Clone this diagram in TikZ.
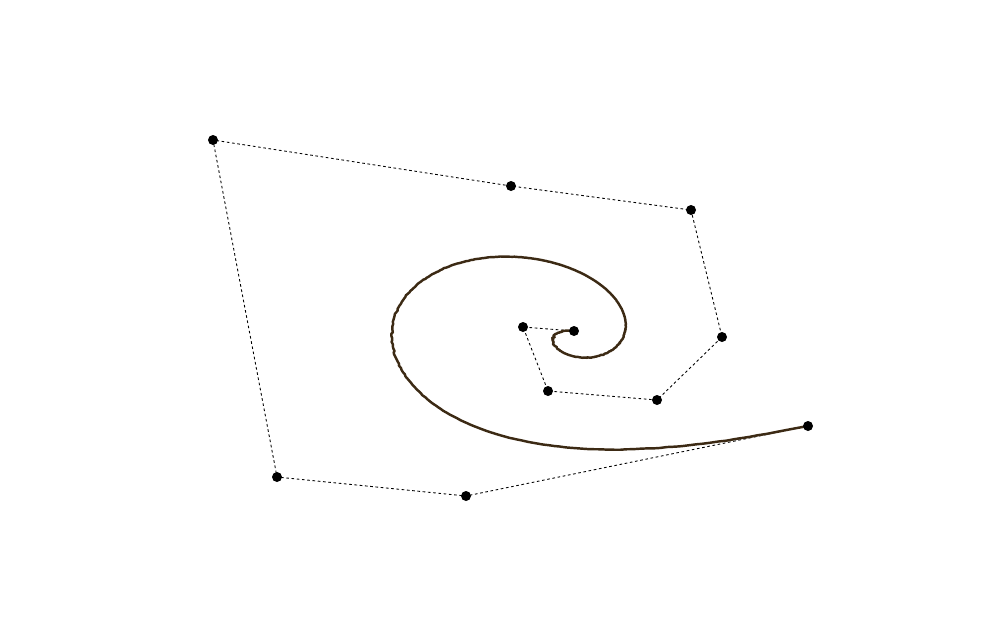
\documentclass[tikz,border=0pt]{standalone}
\begin{document}
\begin{tikzpicture}[x=0.02cm,y=-0.02cm,
  ctrl/.style={circle,fill=black,inner sep=0pt,minimum size=0.2cm},
  poly/.style={draw=black,line width=0.5pt,dash pattern=on 1.5pt off 1.5pt},
  curve/.style={draw={rgb,255:red,60;green,42;blue,20},line width=1.4pt,line cap=round,line join=round}]
\useasboundingbox (0,0) rectangle (996,637);
% control points
\coordinate (c0) at (808,426);
\coordinate (c1) at (466,496);
\coordinate (c2) at (277,477);
\coordinate (c3) at (213,140);
\coordinate (c4) at (511,186);
\coordinate (c5) at (691,210);
\coordinate (c6) at (722,337);
\coordinate (c7) at (657,400);
\coordinate (c8) at (548,391);
\coordinate (c9) at (523,327);
\coordinate (c10) at (574,331);
% control polygon
\draw[poly] (c0) -- (c1) -- (c2) -- (c3) -- (c4) -- (c5) -- (c6) -- (c7) -- (c8) -- (c9) -- (c10);
% degree-10 Bezier curve
\draw[curve] plot[domain=0:1,samples=400,smooth,variable=\t]
 ({(1-\t)^10*808 + 10*\t*(1-\t)^9*466 + 45*\t^2*(1-\t)^8*277 + 120*\t^3*(1-\t)^7*213
   + 210*\t^4*(1-\t)^6*511 + 252*\t^5*(1-\t)^5*691 + 210*\t^6*(1-\t)^4*722
   + 120*\t^7*(1-\t)^3*657 + 45*\t^8*(1-\t)^2*548 + 10*\t^9*(1-\t)*523 + \t^10*574},
  {(1-\t)^10*426 + 10*\t*(1-\t)^9*496 + 45*\t^2*(1-\t)^8*477 + 120*\t^3*(1-\t)^7*140
   + 210*\t^4*(1-\t)^6*186 + 252*\t^5*(1-\t)^5*210 + 210*\t^6*(1-\t)^4*337
   + 120*\t^7*(1-\t)^3*400 + 45*\t^8*(1-\t)^2*391 + 10*\t^9*(1-\t)*327 + \t^10*331});
% control point dots
\foreach \i in {0,...,10} \node[ctrl] (p\i) at (c\i) {};
\end{tikzpicture}
\end{document}
